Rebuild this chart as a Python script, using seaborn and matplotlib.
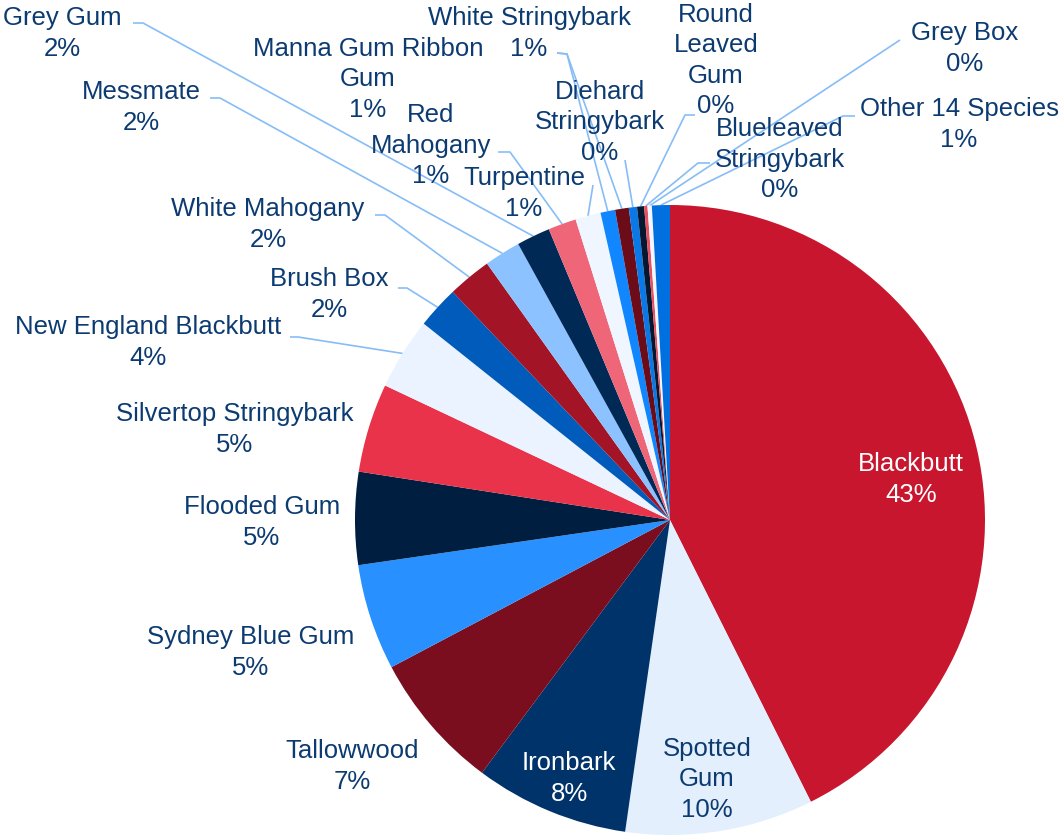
import matplotlib
matplotlib.use("Agg")
import matplotlib.pyplot as plt
import seaborn as sns
import numpy as np

# ---- data (clockwise from 12 o'clock) ----
species = ["Blackbutt", "Spotted Gum", "Ironbark", "Tallowwood", "Sydney Blue Gum",
           "Flooded Gum", "Silvertop Stringybark", "New England Blackbutt", "Brush Box",
           "White Mahogany", "Messmate", "Grey Gum", "Red Mahogany", "Turpentine",
           "Manna Gum Ribbon Gum", "White Stringybark", "Diehard Stringybark",
           "Round Leaved Gum", "Blueleaved Stringybark", "Grey Box", "Other 14 Species"]
share = [42.6, 9.65, 7.9, 7.08, 5.44, 4.75, 4.56, 3.69, 2.17, 2.25, 1.86, 1.72,
         1.44, 1.30, 0.75, 0.70, 0.42, 0.36, 0.17, 0.22, 0.92]
label_text = ["Blackbutt", "Spotted\nGum", "Ironbark", "Tallowwood", "Sydney Blue Gum",
              "Flooded Gum", "Silvertop Stringybark", "New England Blackbutt", "Brush Box",
              "White Mahogany", "Messmate", "Grey Gum", "Red\nMahogany", "Turpentine",
              "Manna Gum Ribbon\nGum", "White Stringybark", "Diehard\nStringybark",
              "Round\nLeaved\nGum", "Blueleaved\nStringybark", "Grey Box", "Other 14 Species"]

colors = ["#C8162F", "#E3EFFC", "#00336A", "#7A0E1E", "#2891FF", "#001E3F",
          "#E8334A", "#EAF3FF", "#005BBB", "#A31426", "#8BC2FF", "#002A55",
          "#EE6677", "#F0F6FF", "#1187FF", "#6B0C18", "#0A79E8", "#06182F",
          "#E8505F", "#F2F7FF", "#0070E0"]

# ---- layout (pixel coordinates, y from top) ----
W, H = 1062, 836
CX, CY, R = 670, 520, 315
LINE_H = 30.5
label_pos = [(911, 477), (707, 777), (569, 776), (352, 764), (251, 650),
             (262, 520), (235, 427), (148, 340), (329, 292), (268, 222),
             (141, 105), (62, 31), (431, 143), (524, 191), (368, 77),
             (529, 31), (600, 120), (716, 58), (780, 157), (965, 46), (959, 122)]
leaders = [None, None, None, None, None, None, None,
           [(290, 337), (298, 337)],
           [(398, 288), (407, 288)],
           [(375, 215), (385, 215)],
           [(210, 98), (220, 98)],
           [(133, 23), (143, 23)],
           [(498, 152), (510, 152)],
           [(593, 185)],
           [(557, 53), (567, 54)],
           [(557, 53), (567, 54)],
           [(625, 160)],
           [(695, 115), (685, 115)],
           [(710, 163), (698, 163)],
           [(900, 40)],
           [(855, 116), (843, 116)]]
text_color = ["white", "#0C3B72", "white"] + ["#0C3B72"] * 18

sns.set_theme(style="white")
plt.rcParams["font.family"] = ["Liberation Sans", "DejaVu Sans"]

fig = plt.figure(figsize=(W / 100, H / 100), dpi=100)
ax = fig.add_axes([0, 0, 1, 1])

def py(y):
    return H - y

wedges, _ = ax.pie(share, colors=colors, startangle=90, counterclock=False,
                   center=(CX, py(CY)), radius=R, wedgeprops=dict(linewidth=0))
ax.set_xlim(0, W)
ax.set_ylim(0, H)
ax.set_aspect("equal")
ax.axis("off")

total = sum(share)
line_col = "#86BDF7"
for i, w in enumerate(wedges):
    pct = f"{round(share[i] / total * 100):.0f}%"
    lines = label_text[i].split("\n") + [pct]
    lx, ly = label_pos[i]
    n = len(lines)
    for k, s in enumerate(lines):
        yk = ly + (k - (n - 1) / 2) * LINE_H
        ax.text(lx, py(yk), s, ha="center", va="center_baseline",
                fontsize=18.5, color=text_color[i])
    if leaders[i] is not None:
        mid = np.deg2rad((w.theta1 + w.theta2) / 2)
        ex = CX + R * np.cos(mid)
        ey = py(CY) + R * np.sin(mid)
        xs = [p[0] for p in leaders[i]] + [ex]
        ys = [py(p[1]) for p in leaders[i]] + [ey]
        ax.plot(xs, ys, color=line_col, lw=1.2, zorder=0.5, solid_capstyle="butt")

fig.savefig("out.png", dpi=100)
